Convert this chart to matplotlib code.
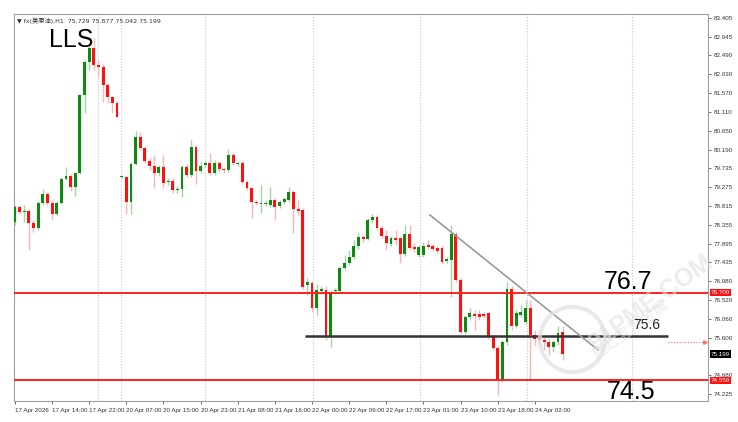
import numpy as np
import matplotlib
matplotlib.use("Agg")
import matplotlib.pyplot as plt
import matplotlib.transforms as mtransforms

plt.rcParams['font.family'] = ['Liberation Sans', 'Noto Sans CJK SC', 'DejaVu Sans']

# hourly candles (price units)
opens = [78.42, 78.79, 78.67, 78.69, 78.40, 78.28, 78.89, 79.11, 78.89, 78.62,
         78.89, 79.47, 79.55, 79.28, 79.62, 81.52, 82.33, 82.67, 82.26, 82.21,
         81.77, 81.48, 81.33, 79.52, 79.52, 78.91, 79.84, 80.50, 80.23, 79.91,
         79.79, 79.62, 79.77, 79.40, 79.43, 79.21, 79.23, 79.77, 79.57, 80.26,
         79.67, 79.82, 79.86, 79.62, 79.86, 79.72, 79.69, 80.06, 79.84, 79.86,
         79.40, 79.25, 78.91, 78.86, 78.86, 78.84, 78.96, 78.81, 78.91, 78.96,
         79.16, 78.74, 78.72, 76.89, 76.93, 76.32, 76.74, 76.76, 75.64, 76.74,
         76.74, 77.30, 77.42, 77.57, 77.84, 78.06, 78.01, 78.47, 78.55, 78.28,
         78.08, 77.89, 78.03, 78.03, 77.64, 78.13, 77.81, 77.62, 77.62, 77.86,
         77.84, 77.79, 77.79, 77.47, 77.50, 78.13, 77.01, 75.74, 76.10, 76.18,
         76.18, 76.18, 76.20, 75.62, 75.35, 74.57, 75.49, 76.79, 75.88, 76.15,
         75.98, 76.32, 75.66, 75.59, 75.54, 75.49, 75.37, 75.49, 75.729]
highs = [78.84, 78.84, 78.84, 78.74, 78.47, 78.94, 79.23, 79.16, 78.96, 78.94,
         79.52, 79.77, 79.60, 79.64, 81.55, 82.38, 82.72, 82.92, 82.38, 82.28,
         81.82, 81.50, 81.38, 79.57, 79.55, 79.89, 80.65, 80.62, 80.28, 79.99,
         80.06, 79.82, 80.06, 79.50, 79.50, 79.30, 79.82, 79.84, 80.43, 80.30,
         79.89, 79.94, 80.11, 79.94, 79.91, 79.77, 80.21, 80.11, 79.91, 79.91,
         79.45, 79.28, 78.96, 79.33, 78.96, 79.28, 79.01, 78.96, 79.03, 79.28,
         79.21, 78.96, 78.77, 77.06, 76.98, 76.91, 76.86, 76.86, 76.76, 76.81,
         77.35, 77.62, 77.74, 77.98, 78.16, 78.11, 78.52, 78.62, 78.59, 78.33,
         78.23, 78.08, 78.23, 78.08, 78.35, 78.35, 77.91, 77.86, 77.93, 77.98,
         77.89, 77.84, 77.84, 77.57, 78.35, 78.18, 77.06, 76.15, 76.32, 76.28,
         76.28, 76.23, 76.23, 75.66, 75.42, 75.54, 76.96, 76.86, 76.28, 76.40,
         76.52, 76.52, 75.79, 75.71, 75.64, 75.59, 75.54, 75.88, 75.877]
lows = [78.35, 78.62, 78.42, 77.74, 78.18, 78.23, 78.84, 78.84, 78.47, 78.59,
        78.86, 79.45, 79.18, 79.06, 79.60, 81.09, 82.14, 82.14, 81.96, 81.35,
        81.33, 81.09, 80.96, 79.50, 78.62, 78.62, 79.82, 80.18, 79.86, 79.69,
        79.25, 79.55, 79.25, 79.33, 79.13, 79.13, 79.03, 79.52, 79.52, 79.35,
        79.62, 79.77, 79.57, 79.57, 79.67, 79.62, 79.64, 79.82, 79.79, 79.35,
        79.21, 78.52, 78.84, 78.64, 78.81, 78.79, 78.47, 78.77, 78.86, 78.91,
        78.16, 78.59, 76.79, 76.64, 76.23, 76.15, 76.67, 75.54, 75.37, 76.67,
        76.69, 77.25, 77.37, 77.52, 77.76, 77.94, 77.98, 78.40, 78.23, 78.03,
        77.74, 77.84, 77.86, 77.42, 77.59, 77.74, 77.69, 77.57, 77.57, 77.76,
        77.72, 77.67, 77.40, 77.42, 76.59, 76.96, 75.69, 75.69, 76.03, 75.79,
        76.03, 76.08, 75.57, 75.30, 74.20, 74.52, 75.42, 75.79, 75.83, 76.10,
        75.93, 74.57, 75.42, 75.42, 75.30, 75.17, 75.25, 75.42, 75.042]
closes = [78.79, 78.67, 78.69, 78.40, 78.28, 78.89, 79.11, 78.89, 78.62, 78.89,
          79.47, 79.55, 79.28, 79.62, 81.52, 82.33, 82.67, 82.26, 82.21, 81.77,
          81.48, 81.33, 80.99, 79.53, 78.91, 79.84, 80.50, 80.23, 79.91, 79.79,
          79.62, 79.77, 79.38, 79.43, 79.21, 79.23, 79.77, 79.57, 80.26, 79.67,
          79.79, 79.86, 79.62, 79.86, 79.72, 79.69, 80.06, 79.86, 79.86, 79.40,
          79.25, 78.91, 78.89, 78.89, 78.89, 78.96, 78.79, 78.91, 78.99, 79.16,
          78.74, 78.69, 76.84, 76.96, 76.32, 76.76, 76.79, 75.64, 76.71, 76.76,
          77.30, 77.42, 77.57, 77.84, 78.06, 78.01, 78.47, 78.55, 78.28, 78.08,
          77.91, 78.03, 77.98, 77.64, 78.13, 77.79, 77.76, 77.81, 77.84, 77.81,
          77.76, 77.72, 77.45, 77.52, 78.13, 77.01, 75.74, 76.10, 76.20, 76.13,
          76.10, 76.13, 75.62, 75.35, 74.57, 75.49, 76.79, 75.88, 76.20, 76.23,
          76.32, 75.66, 75.57, 75.54, 75.49, 75.37, 75.49, 75.71, 75.199]

# price axis and time axis labels
price_ticks = [83.405, 82.945, 82.490, 82.030, 81.570, 81.110, 80.650, 80.190,
               79.735, 79.275, 78.815, 78.355, 77.895, 77.435, 76.980, 76.520,
               76.060, 75.600, 74.680, 74.225]
time_labels = ['17 Apr 2026', '17 Apr 14:00', '17 Apr 22:00', '20 Apr 07:00',
               '20 Apr 15:00', '20 Apr 23:00', '21 Apr 08:00', '21 Apr 16:00',
               '22 Apr 00:00', '22 Apr 09:00', '22 Apr 17:00', '23 Apr 01:00',
               '23 Apr 10:00', '23 Apr 18:00', '24 Apr 02:00']
separators = [17.9, 22.8, 40.9, 64.2, 87.2, 110.3, 132.9]

# drawn levels
resist = 76.700
support = 74.559
neck = 75.64
ask_level = 75.49
trend_x = [89.4, 125.6]
trend_y = [78.594, 75.298]

o = np.array(opens); h = np.array(highs); l = np.array(lows); c = np.array(closes)
x = np.arange(len(o))
up = c >= o

fig = plt.figure(figsize=(7.38, 4.22), dpi=100)
ax = fig.add_axes([14/738, 1-401/422, (708-14)/738, (401-14)/422])

# wicks
ax.vlines(x[up], l[up], h[up], color='#a3d6a3', lw=1, zorder=2)
ax.vlines(x[~up], l[~up], h[~up], color='#ffb5b5', lw=1, zorder=2)
# bodies
body_lo = np.minimum(o, c)
body_h = np.maximum(np.abs(c - o), 0.03)
ax.bar(x[up], body_h[up], bottom=body_lo[up], width=0.62, color='#0f8a0f', zorder=3)
ax.bar(x[~up], body_h[~up], bottom=body_lo[~up], width=0.62, color='#ff1010', zorder=3)

# period separators
for s in separators:
    ax.axvline(s, color='#c8c8c8', lw=0.8, ls=(0, (1, 1.5)), zorder=1)

# horizontal levels
ax.axhline(resist, color='#ff2020', lw=1.4, zorder=4)
ax.axhline(support, color='#ff2020', lw=1.4, zorder=4)
ax.hlines(neck, 62.5, 140.6, color='#333333', lw=1.8, zorder=4)
ax.plot(trend_x, trend_y, color='#9a9a9a', lw=1.2, zorder=4)
ax.hlines(ask_level, 140.6, 148.6, color='#ff7070', lw=0.8, ls=(0, (1, 1.5)), zorder=4)
ax.plot([148.6], [ask_level], marker='>', ms=2.5, color='#ff7070', zorder=4)

# watermark
ax.plot([120], [75.56], marker='o', ms=47, mfc='none', mec='#e2e2e2', mew=3,
        alpha=0.75, zorder=5)
ax.text(137, 76.45, '91PME.COM', rotation=36, fontsize=18, color='#e0e0e0',
        alpha=0.6, ha='center', va='center', zorder=5, fontweight='bold')
ax.text(132.5, 75.8, '鑫汇宝贵金属', rotation=36, fontsize=11, color='#e0e0e0',
        alpha=0.6, ha='center', va='center', zorder=5,
        family=['Noto Sans CJK SC', 'DejaVu Sans'])

# annotations
ax.text(7.3, 82.70, 'LLS', fontsize=18, color='black', zorder=6)
ax.text(126.9, 76.78, '76.7', fontsize=18, color='black', zorder=6)
ax.text(127.4, 74.11, '74.5', fontsize=18, color='black', zorder=6)
ax.text(133.2, 75.82, '75.6', fontsize=10, color='#222222', zorder=6)

ax.set_xlim(-0.2, 149.3)
ax.set_ylim(74.052, 83.503)

# axes styling
for sp in ax.spines.values():
    sp.set_color('#a0a0a0')
    sp.set_linewidth(0.8)
ax.yaxis.tick_right()
ax.set_yticks(price_ticks)
ax.set_yticklabels([f'{p:.3f}' for p in price_ticks])
ax.tick_params(axis='y', labelsize=4.5, colors='#333333', length=2, pad=2, width=0.5)
ax.set_xticks(np.arange(len(time_labels)) * 8)
ax.set_xticklabels(time_labels)
for t in ax.get_xticklabels():
    t.set_horizontalalignment('left')
ax.tick_params(axis='x', labelsize=4.5, colors='#333333', length=2, pad=3, width=0.5)

# price tags on the right scale
tr = mtransforms.blended_transform_factory(ax.transAxes, ax.transData)
for val, bg in [(resist, '#ff1010'), (support, '#ff1010'), (closes[-1], 'black')]:
    ax.text(1.004, val, f'{val:.3f}', transform=tr, fontsize=4.5, color='white',
            ha='left', va='center', zorder=7, clip_on=False,
            bbox=dict(facecolor=bg, edgecolor='none', pad=0.8))

# header line
ax.text(0.004, 0.992, '▼ fx(美原油),H1  75.729 75.877 75.042 75.199',
        transform=ax.transAxes, fontsize=4.5, color='#333333', va='top', ha='left',
        family=['DejaVu Sans', 'Noto Sans CJK SC'], zorder=7)

fig.savefig('out.png', dpi=100, facecolor='white')
